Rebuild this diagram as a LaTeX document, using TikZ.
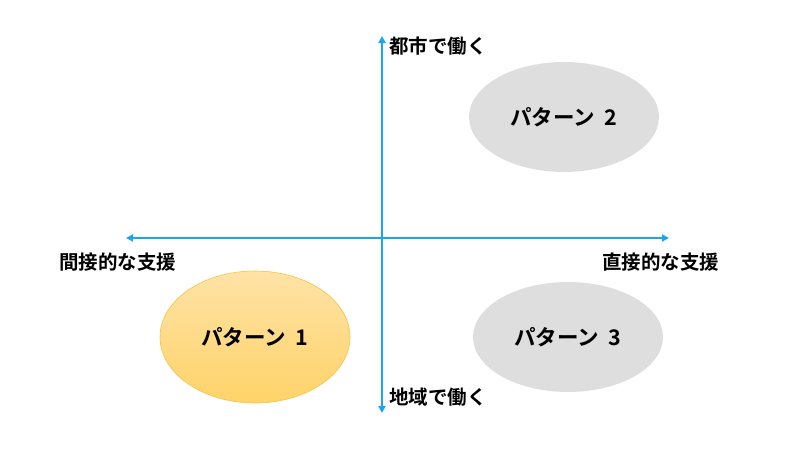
\documentclass[tikz,border=0pt]{standalone}
\usepackage{fontspec}
\setmainfont{Noto Sans CJK JP}[BoldFont={* Bold}]
\usetikzlibrary{arrows.meta,shapes.geometric}
\definecolor{axisblue}{HTML}{1AA6EC}
\definecolor{pgray}{HTML}{DEDEDE}
\definecolor{porangeT}{HTML}{FFE3A6}
\definecolor{porangeB}{HTML}{FFD36A}
\definecolor{porangeD}{HTML}{F6C445}
\begin{document}
\begin{tikzpicture}[x=1pt,y=-1pt,
  axis/.style={draw=axisblue,line width=1.8pt,-{Triangle[length=7pt,width=7pt]}},
  lbl/.style={font=\fontsize{19.5}{22}\selectfont\bfseries,inner sep=0pt},
  pat/.style={ellipse,minimum width=190pt,inner sep=0pt,font=\fontsize{21.5}{24}\selectfont\bfseries},
  grayp/.style={pat,fill=pgray,minimum height=110pt},
  orangep/.style={pat,draw=porangeD,line width=0.6pt,top color=porangeT,bottom color=porangeB,minimum height=132pt}]
\useasboundingbox (0,0) rectangle (793,448);
\coordinate (top) at (382,36);
\coordinate (bot) at (382,413);
\coordinate (lft) at (126,238);
\coordinate (rgt) at (669,238);
\coordinate (ctr) at (382,238);
\draw[axis] (ctr) -- (top);
\draw[axis] (ctr) -- (bot);
\draw[axis] (ctr) -- (lft);
\draw[axis] (ctr) -- (rgt);
\node[lbl,anchor=west] (city) at (389,46) {都市で働く};
\node[lbl,anchor=west] (local) at (389,397) {地域で働く};
\node[lbl,anchor=west] (indirect) at (59,262) {間接的な支援};
\node[lbl,anchor=west] (direct) at (602,262) {直接的な支援};
\node[grayp] (p2) at (564,117) {パターン\hspace{0.45em}2};
\node[orangep] (p1) at (255,337) {パターン\hspace{0.45em}1};
\node[grayp] (p3) at (568,337) {パターン\hspace{0.45em}3};
\end{tikzpicture}
\end{document}
